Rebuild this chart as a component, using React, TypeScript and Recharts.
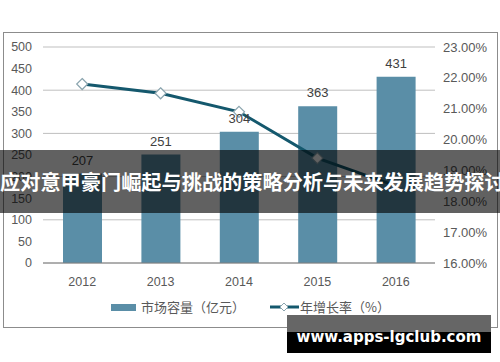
import React from "react"
import { Bar, CartesianGrid, ComposedChart, LabelList, Line, XAxis, YAxis } from "recharts"

const years = ["2012", "2013", "2014", "2015", "2016"]
const capacity = [207, 251, 304, 363, 431]
const growth = [21.8, 21.5, 20.9, 19.4, 18.5]
const leftTicks = [0, 50, 100, 150, 200, 250, 300, 350, 400, 450, 500]
const rightTicks = [16, 17, 18, 19, 20, 21, 22, 23]

const barName = "市场容量（亿元）"
const lineName = "年增长率（%）"
const title = "应对意甲豪门崛起与挑战的策略分析与未来发展趋势探讨"
const watermark = "www.apps-lgclub.com"

const data = years.map((year, i) => ({ year, capacity: capacity[i], growth: growth[i] }))

const BAR_COLOR = "#5a8ea7"
const LINE_COLOR = "#14586d"
const TEXT = "#595959"
const latin = "'Liberation Sans', Arial, sans-serif"
const cjk = "'Noto Sans CJK SC', sans-serif"

const Diamond = (props: any) => {
    const { cx, cy } = props
    if (cx == null || cy == null) return null
    const r = 5.5
    return (
        <path
            d={`M${cx},${cy - r}L${cx + r},${cy}L${cx},${cy + r}L${cx - r},${cy}Z`}
            fill="#ffffff"
            stroke="#8aa4ae"
            strokeWidth={1.2}
        />
    )
}

export default function App() {
    return (
        <div style={{ position: "fixed", left: 0, top: 0, width: 500, height: 362, background: "#fff", overflow: "hidden" }}>
            {/* outer frame */}
            <div style={{ position: "absolute", left: 3, top: 32, width: 493, height: 294, border: "1px solid #8c8c8c" }} />

            <ComposedChart width={500} height={362} data={data} margin={{ top: 47, right: 0, bottom: 69, left: 0 }}>
                <CartesianGrid yAxisId="left" vertical={false} stroke="#bfbfbf" />
                <XAxis
                    dataKey="year"
                    axisLine={{ stroke: "#7f7f7f" }}
                    tickLine={false}
                    height={30}
                    tick={{ fill: TEXT, fontSize: 12.5, fontFamily: latin }}
                    tickMargin={8}
                />
                <YAxis
                    yAxisId="left"
                    width={43}
                    domain={[0, 500]}
                    ticks={leftTicks}
                    axisLine={false}
                    tickLine={false}
                    tickMargin={5}
                    tick={{ fill: TEXT, fontSize: 12.5, fontFamily: latin }}
                />
                <YAxis
                    yAxisId="right"
                    orientation="right"
                    width={65}
                    domain={[16, 23]}
                    ticks={rightTicks}
                    axisLine={false}
                    tickLine={false}
                    tickMargin={2}
                    tickFormatter={(v: number) => v.toFixed(2) + "%"}
                    tick={{ fill: TEXT, fontSize: 13, fontFamily: latin }}
                />
                <Bar yAxisId="left" dataKey="capacity" fill={BAR_COLOR} barSize={39} isAnimationActive={false}>
                    <LabelList dataKey="capacity" position="top" offset={9} fill="#404040" fontSize={13} fontFamily={latin} />
                </Bar>
                <Line
                    yAxisId="right"
                    type="linear"
                    dataKey="growth"
                    stroke={LINE_COLOR}
                    strokeWidth={3}
                    dot={<Diamond />}
                    activeDot={false}
                    isAnimationActive={false}
                />
            </ComposedChart>

            {/* legend */}
            <div style={{ position: "absolute", left: 111, top: 304, width: 25, height: 7, background: BAR_COLOR }} />
            <div style={{ position: "absolute", left: 141, top: 298, height: 18, lineHeight: "18px", fontSize: 13, fontFamily: cjk, color: TEXT, whiteSpace: "nowrap" }}>
                {barName}
            </div>
            <svg style={{ position: "absolute", left: 270, top: 300 }} width={30} height={14}>
                <line x1={0} y1={7} x2={29} y2={7} stroke={LINE_COLOR} strokeWidth={3} />
                <path d="M14,3L18,7L14,11L10,7Z" fill="#fff" stroke="#8aa4ae" strokeWidth={1} />
            </svg>
            <div style={{ position: "absolute", left: 300, top: 298, height: 18, lineHeight: "18px", fontSize: 13, fontFamily: cjk, color: TEXT, whiteSpace: "nowrap" }}>
                {lineName}
            </div>

            {/* title banner */}
            <div
                style={{
                    position: "absolute",
                    left: 0,
                    top: 150,
                    width: 500,
                    height: 63,
                    background: "rgba(0,0,0,0.62)",
                    color: "#fff",
                    fontFamily: cjk,
                    fontWeight: 700,
                    fontSize: 20.2,
                    lineHeight: "63px",
                    textAlign: "center",
                    whiteSpace: "nowrap",
                }}
            >
                {title}
            </div>

            {/* watermark */}
            <div style={{ position: "absolute", left: 287, top: 315, width: 204, height: 17, background: "#666666" }} />
            <div style={{ position: "absolute", left: 287, top: 332, width: 204, height: 21, background: "#000000" }} />
            <div
                style={{
                    position: "absolute",
                    left: 287,
                    top: 328,
                    width: 204,
                    height: 18,
                    lineHeight: "18px",
                    textAlign: "center",
                    color: "#fff",
                    fontFamily: "'DejaVu Sans', sans-serif",
                    fontWeight: 700,
                    fontSize: 15,
                    whiteSpace: "nowrap",
                }}
            >
                {watermark}
            </div>
        </div>
    )
}
